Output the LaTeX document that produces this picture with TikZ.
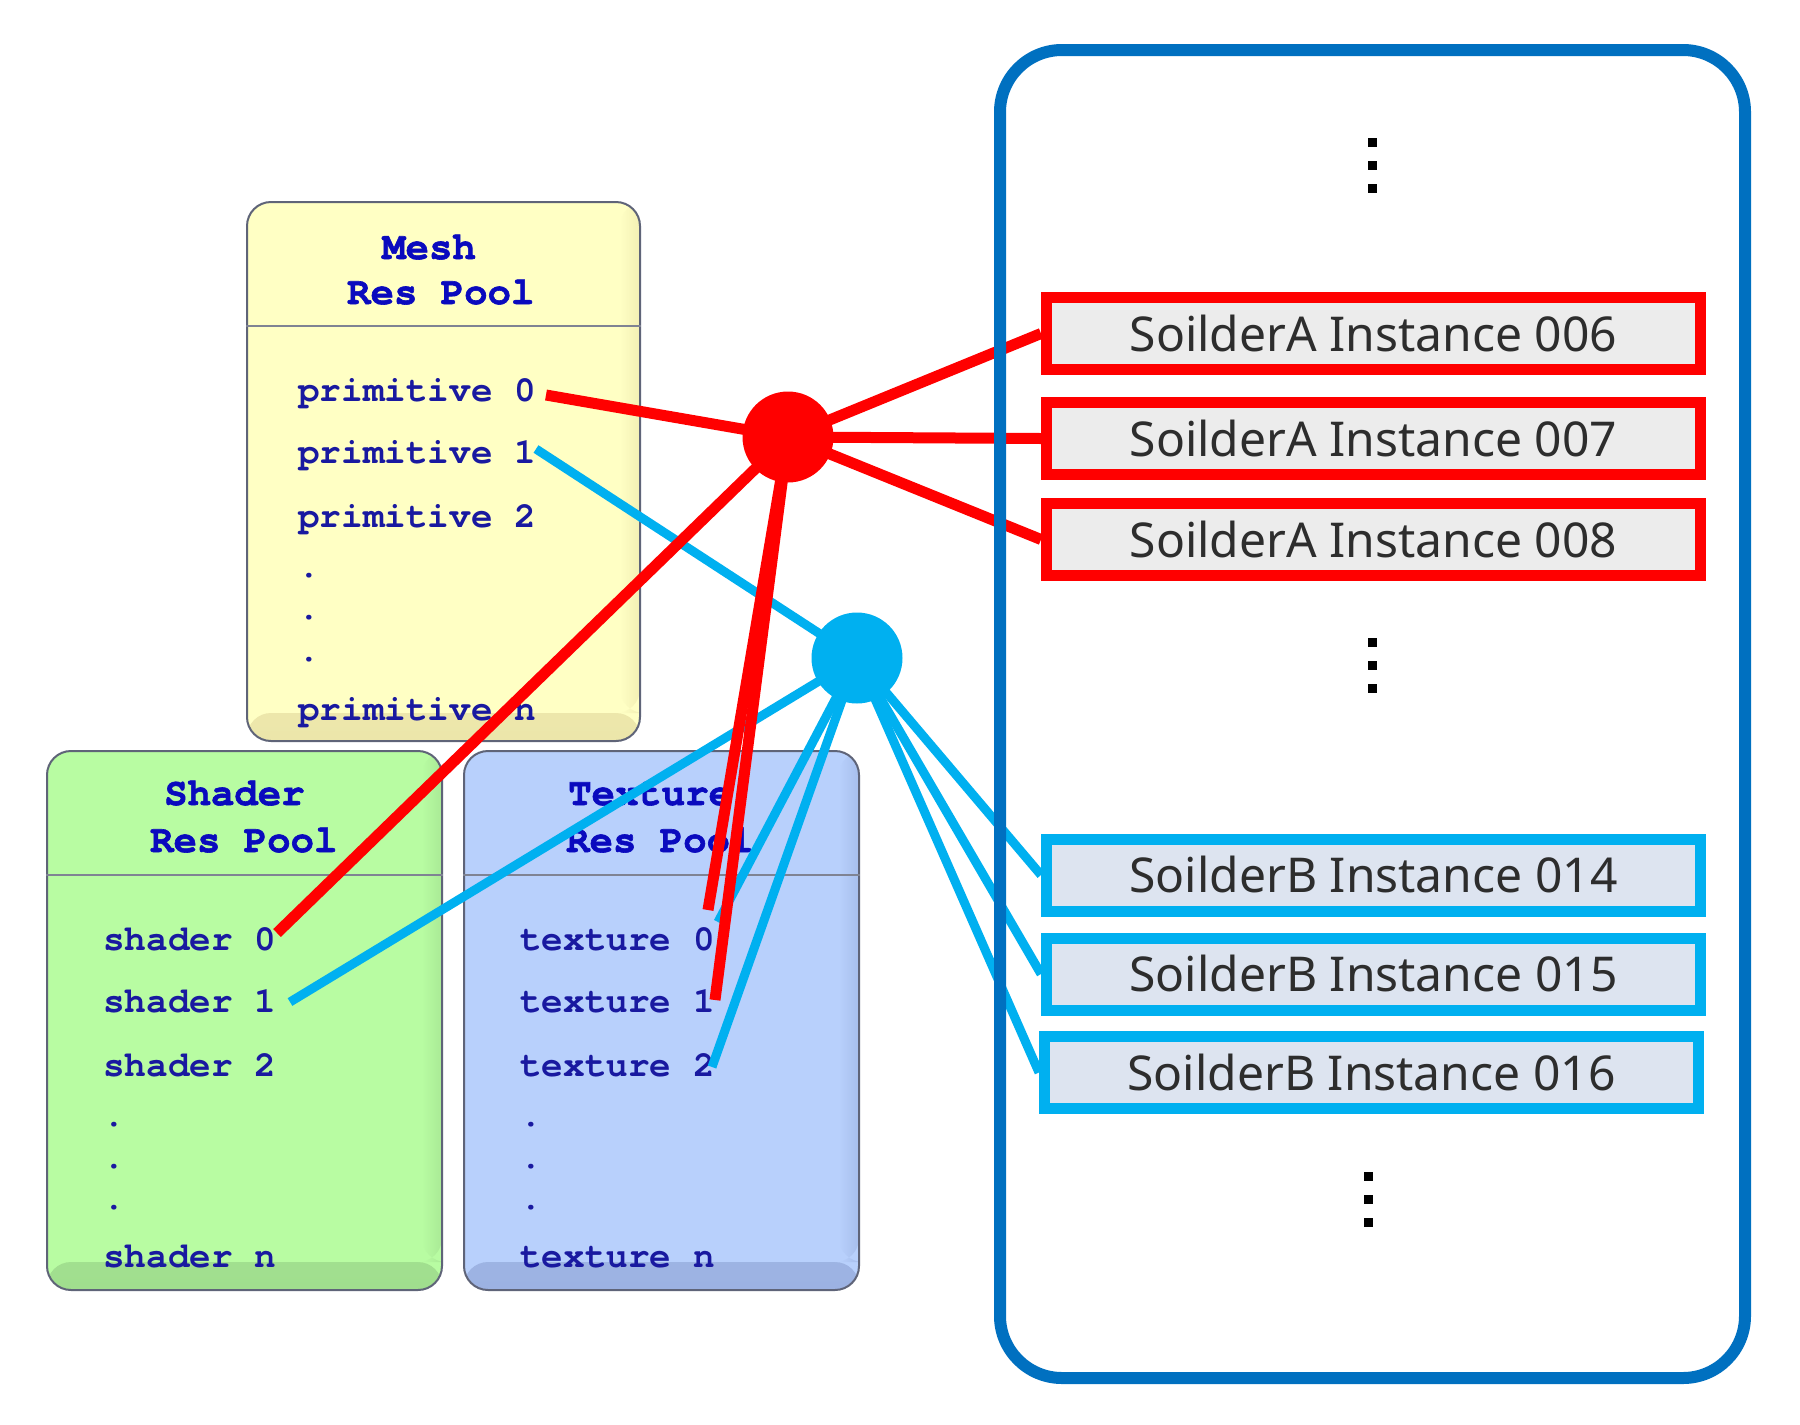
\documentclass[tikz,border=0pt]{standalone}
\usepackage{fontspec}
\newfontfamily\instfont{Noto Sans}
\newfontfamily\courbody{texgyrecursor-bold.otf}
\newfontfamily\courtitle{texgyrecursor-bold.otf}[FakeBold=1.5]
\definecolor{redc}{RGB}{255,0,0}
\definecolor{cyanc}{RGB}{0,176,240}
\definecolor{framec}{RGB}{0,112,192}
\definecolor{instAfill}{RGB}{236,236,236}
\definecolor{instBfill}{RGB}{221,228,240}
\definecolor{insttext}{RGB}{45,45,45}
\definecolor{meshfill}{RGB}{255,255,196}
\definecolor{meshdark}{RGB}{236,230,170}
\definecolor{shadfill}{RGB}{184,252,162}
\definecolor{shaddark}{RGB}{160,222,142}
\definecolor{texfill}{RGB}{184,208,252}
\definecolor{texdark}{RGB}{156,178,226}
\definecolor{poolborder}{RGB}{95,100,120}
\definecolor{titleblue}{RGB}{10,10,190}
\definecolor{bodyblue}{RGB}{25,25,160}
\pgfdeclarelayer{paperLayer}
\pgfdeclarelayer{poolsLayer}
\pgfdeclarelayer{linesLayer}
\pgfsetlayers{paperLayer,poolsLayer,linesLayer,main}
\tikzset{
  pool/.style={draw=poolborder, line width=2pt, rounded corners=24pt, inner sep=0pt, rectangle},
  poolshade/.style 2 args={path picture={
      \shade[top color=#1, bottom color=#2] ([yshift=28pt]path picture bounding box.south west) rectangle (path picture bounding box.south east);
      \shade[left color=#1, right color=#2, opacity=0.6] ([xshift=-20pt]path picture bounding box.north east) rectangle ([yshift=28pt]path picture bounding box.south east);
  }},
  divider/.style={draw=poolborder!80, line width=1.5pt},
  titletxt/.style={anchor=base west, inner sep=0pt, text=titleblue, font=\courtitle\fontsize{39}{39}\selectfont},
  bodytxt/.style={anchor=base west, inner sep=0pt, text=bodyblue, font=\courbody\fontsize{36}{36}\selectfont},
  inst/.style={rectangle, minimum width=654pt, minimum height=72pt, line width=11pt, inner sep=0pt,
     text height=35pt, text depth=0pt, text=insttext, font=\instfont\fontsize{48}{48}\selectfont},
  instA/.style={inst, draw=redc, fill=instAfill},
  instB/.style={inst, draw=cyanc, fill=instBfill},
  hub/.style={circle, minimum size=91pt, inner sep=0pt},
  redline/.style={draw=redc, line width=11pt},
  blueline/.style={draw=cyanc, line width=9pt},
  framebox/.style={draw=framec, line width=12pt, rounded corners=62pt, rectangle, inner sep=0pt},
  vdot/.style={fill=black}
}
\begin{document}
\begin{tikzpicture}[x=1pt,y=-1pt]
\begin{pgfonlayer}{paperLayer}
\fill[white] (0,0) rectangle (1800,1425);
\end{pgfonlayer}
\useasboundingbox (0,0) rectangle (1800,1425);

% ---------- resource pools ----------
\begin{pgfonlayer}{poolsLayer}
\node[pool, fill=meshfill, poolshade={meshfill}{meshdark}, minimum width=393pt, minimum height=539pt] (mesh) at (443.5,471.5) {};
\draw[divider] (mesh.west |- 0,326) -- (mesh.east |- 0,326);
\node[titletxt] (meshT1) at (382,259) {Mesh};
\node[titletxt] (meshT2) at (347,304) {Res Pool};
\node[bodytxt] (m0) at (298,401) {primitive 0};
\node[bodytxt] (m1) at (298,463) {primitive 1};
\node[bodytxt] (m2) at (298,527) {primitive 2};
\node[bodytxt] (md1) at (298,577) {.};
\node[bodytxt] (md2) at (298,619) {.};
\node[bodytxt] (md3) at (298,661) {.};
\node[bodytxt] (mn) at (298,720) {primitive n};

\node[pool, fill=shadfill, poolshade={shadfill}{shaddark}, minimum width=395pt, minimum height=539pt] (shader) at (244.5,1020.5) {};
\draw[divider] (shader.west |- 0,875) -- (shader.east |- 0,875);
\node[titletxt] (shT1) at (164,805) {Shader};
\node[titletxt] (shT2) at (150,852) {Res Pool};
\node[bodytxt] (s0) at (103,950) {shader 0};
\node[bodytxt] (s1) at (103,1012) {shader 1};
\node[bodytxt] (s2) at (103,1076) {shader 2};
\node[bodytxt] (sd1) at (103,1126) {.};
\node[bodytxt] (sd2) at (103,1168) {.};
\node[bodytxt] (sd3) at (103,1209) {.};
\node[bodytxt] (sn) at (103,1267) {shader n};

\node[pool, fill=texfill, poolshade={texfill}{texdark}, minimum width=395pt, minimum height=539pt] (texture) at (661.5,1020.5) {};
\draw[divider] (texture.west |- 0,875) -- (texture.east |- 0,875);
\node[titletxt] (txT1) at (568,805) {Texture};
\node[titletxt] (txT2) at (566,852) {Res Pool};
\node[bodytxt] (t0) at (520,950) {texture 0};
\node[bodytxt] (t1) at (520,1012) {texture 1};
\node[bodytxt] (t2) at (520,1076) {texture 2};
\node[bodytxt] (td1) at (520,1126) {.};
\node[bodytxt] (td2) at (520,1168) {.};
\node[bodytxt] (td3) at (520,1209) {.};
\node[bodytxt] (tn) at (520,1267) {texture n};
\end{pgfonlayer}

% ---------- outer frame ----------
\node[framebox, minimum width=745pt, minimum height=1328pt] (frame) at (1372.5,714) {};

% ---------- instance boxes ----------
\node[instA] (a006) at (1373.5,333.5) {SoilderA Instance 006};
\node[instA] (a007) at (1373.5,438.5) {SoilderA Instance 007};
\node[instA] (a008) at (1373.5,539.5) {SoilderA Instance 008};
\node[instB] (b014) at (1373.5,875) {SoilderB Instance 014};
\node[instB] (b015) at (1373.5,974) {SoilderB Instance 015};
\node[instB] (b016) at (1371.5,1072.5) {SoilderB Instance 016};

% ---------- connector end points ----------
\coordinate (hubRc) at (788,437);
\coordinate (hubBc) at (857,658);
\coordinate (p0end) at (546,395);
\coordinate (p1end) at (536,449);
\coordinate (s0end) at (277,933);
\coordinate (s1end) at (290,1002);
\coordinate (t0endR) at (708,910);
\coordinate (t1endR) at (715,1000);
\coordinate (t0endB) at (718,922);
\coordinate (t2endB) at (712,1067);

% ---------- connectors ----------
\begin{pgfonlayer}{linesLayer}
\draw[blueline] (hubBc) -- (p1end);
\draw[blueline] (hubBc) -- (s1end);
\draw[blueline] (hubBc) -- (t0endB);
\draw[blueline] (hubBc) -- (t2endB);
\draw[blueline] (hubBc) -- (b014.west);
\draw[blueline] (hubBc) -- (b015.west);
\draw[blueline] (hubBc) -- (b016.west);

\draw[redline] (hubRc) -- (p0end);
\draw[redline] (hubRc) -- (s0end);
\draw[redline] (hubRc) -- (t0endR);
\draw[redline] (hubRc) -- (t1endR);
\draw[redline] (hubRc) -- (a006.west);
\draw[redline] (hubRc) -- (a007.west);
\draw[redline] (hubRc) -- (a008.west);

\node[hub, fill=cyanc] (hubB) at (hubBc) {};
\node[hub, fill=redc] (hubR) at (hubRc) {};
\end{pgfonlayer}

% ---------- vertical ellipses ----------
\foreach \yy in {142,165,188,642,665,688} {
  \fill[vdot] (1367.5,\yy-4.5) rectangle (1376.5,\yy+4.5);
}
\foreach \yy in {1176,1199,1222} {
  \fill[vdot] (1363.5,\yy-4.5) rectangle (1372.5,\yy+4.5);
}
\end{tikzpicture}
\end{document}
